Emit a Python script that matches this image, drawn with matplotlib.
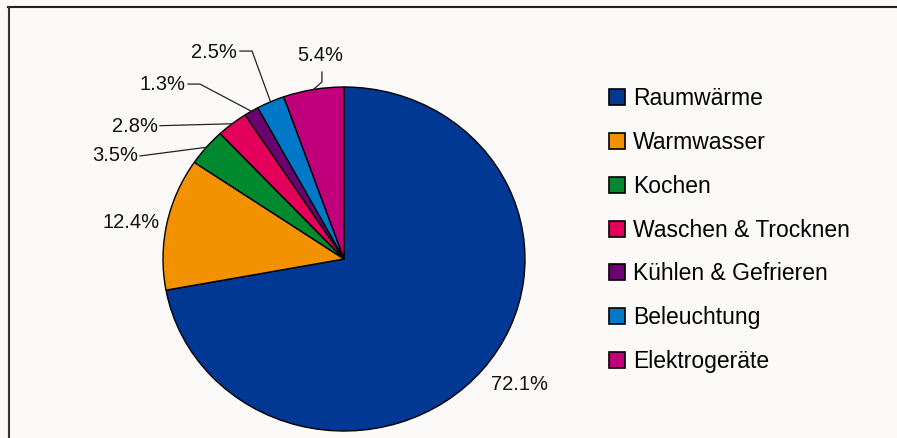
import numpy as np
import matplotlib.pyplot as plt
from matplotlib.lines import Line2D

plt.rcParams['font.family'] = ['Liberation Sans', 'DejaVu Sans']

# Energieverbrauch im Haushalt nach Anwendung (%)
categories = ['Raumwärme', 'Warmwasser', 'Kochen', 'Waschen & Trocknen',
              'Kühlen & Gefrieren', 'Beleuchtung', 'Elektrogeräte']
shares = [72.1, 12.4, 3.5, 2.8, 1.3, 2.5, 5.4]
colors = ['#003893', '#f39200', '#00892f', '#e2005a', '#6b0070', '#0078c8', '#c0007a']

# Beschriftungen: Textposition, Ausrichtung, Knickpunkte der Führungslinie
label_layout = [
    ((0.972, -0.727), 'center', []),
    ((-1.177, 0.215), 'center', []),
    ((-1.138, 0.599), 'right', [(-1.127, 0.599)]),
    ((-1.028, 0.773), 'right', [(-1.017, 0.775)]),
    ((-0.878, 1.012), 'right', [(-0.862, 1.017), (-0.796, 1.017)]),
    ((-0.591, 1.203), 'right', [(-0.575, 1.209), (-0.508, 1.209)]),
    ((-0.133, 1.185), 'center', [(-0.122, 1.087), (-0.122, 1.029)]),
]

bg = '#fbfaf8'
fig = plt.figure(figsize=(8.97, 4.38), dpi=100, facecolor=bg)
ax = fig.add_axes([163 / 897, 7 / 438, 362 / 897, 344 / 438])
ax.set_facecolor(bg)

wedges, _ = ax.pie(shares, colors=colors, startangle=90, counterclock=False,
                   wedgeprops=dict(edgecolor='black', linewidth=1.0))
ax.set_aspect('auto')
ax.set_xlim(-1, 1)
ax.set_ylim(-1, 1)
ax.axis('off')

for w, val, (txy, ha, pts) in zip(wedges, shares, label_layout):
    ax.text(txy[0], txy[1], f'{val:.1f}%', ha=ha, va='center', fontsize=14.5,
            color='#111111', clip_on=False)
    if pts:
        mid = np.deg2rad((w.theta1 + w.theta2) / 2)
        xs = [p[0] for p in pts] + [np.cos(mid)]
        ys = [p[1] for p in pts] + [np.sin(mid)]
        ax.plot(xs, ys, color='#222222', lw=0.9, clip_on=False)

leg = fig.legend(wedges, categories, loc='upper left',
                 bbox_to_anchor=(609 / 897, 1 - 87 / 438), frameon=False,
                 fontsize=16.5, handlelength=0.7, handleheight=0.7,
                 handletextpad=0.35, labelspacing=0.91, borderpad=0,
                 borderaxespad=0)
for h in leg.legend_handles:
    h.set_linewidth(1.2)

# Rahmen oben und links
fig.add_artist(Line2D([8 / 897, 1], [1 - 7 / 438] * 2, color='#222222', lw=1.5))
fig.add_artist(Line2D([9 / 897] * 2, [0, 1 - 7 / 438], color='#333333', lw=1.5))

fig.savefig('out.png', dpi=100, facecolor=bg)
